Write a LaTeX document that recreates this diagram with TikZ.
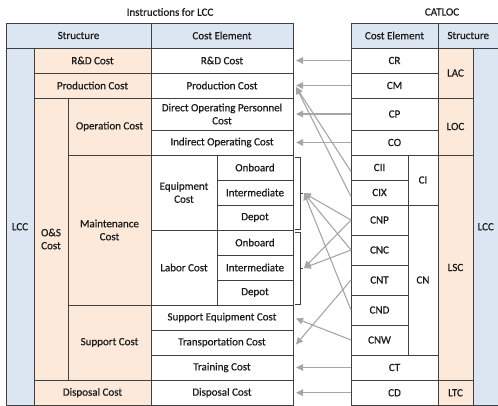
\documentclass[tikz,border=0pt]{standalone}
\usepackage{fontspec}
\setmainfont{Carlito}[FakeBold=0.5]
\usetikzlibrary{arrows.meta}
\definecolor{hdrblue}{HTML}{DCE6F2}
\definecolor{peach}{HTML}{FDE9D9}
\definecolor{gridline}{HTML}{404040}
\definecolor{linkgray}{HTML}{A6A6A6}
\definecolor{ink}{HTML}{1A1A1A}

% \cellbox{name}{x1}{y1}{x2}{y2}{fill}{text}
\newcommand{\cellbox}[7]{%
  \node[cell, fill=#6, minimum width={(#4-#2)*1pt}, minimum height={(#5-#3)*1pt}]
    (#1) at ({(#2+#4)/2},{(#3+#5)/2}) {#7};}

\begin{document}
\begin{tikzpicture}[x={(1pt,0)}, y={(0,-1pt)},
  every node/.style={text=ink, font=\fontsize{11}{13}\selectfont},
  cell/.style={draw=gridline, line width=0.6pt, inner sep=0pt, outer sep=0pt, align=center},
  link/.style={draw=linkgray, line width=1.1pt, -{Triangle[length=7pt,width=6.5pt]}},
  bracket/.style={draw=gridline, line width=0.6pt}]
\useasboundingbox (0,0) rectangle (498,405);

% titles
\node (ttl) at (170,12) {Instructions for LCC};
\node (ttr) at (442,12) {CATLOC};

% ---- left table: Instructions for LCC ----
\cellbox{lhs}{6}{23}{151}{48}{hdrblue}{Structure}
\cellbox{lhc}{151}{23}{293}{48}{hdrblue}{Cost Element}
\cellbox{llcc}{6}{48}{34}{405.5}{hdrblue}{LCC}
\cellbox{srd}{34}{48}{151}{73}{peach}{R\&D Cost}
\cellbox{spc}{34}{73}{151}{98}{peach}{Production Cost}
\cellbox{sos}{34}{98}{68}{380}{peach}{O\&S\\Cost}
\cellbox{sop}{68}{98}{151}{155}{peach}{Operation Cost}
\cellbox{smc}{68}{155}{151}{305}{peach}{Maintenance\\Cost}
\cellbox{ssc}{68}{305}{151}{380}{peach}{Support Cost}
\cellbox{sdc}{34}{380}{151}{405.5}{peach}{Disposal Cost}

\cellbox{crd}{151}{48}{293}{73}{white}{R\&D Cost}
\cellbox{cpc}{151}{73}{293}{98}{white}{Production Cost}
\cellbox{cdo}{151}{98}{293}{130}{white}{Direct Operating Personnel\\Cost}
\cellbox{cio}{151}{130}{293}{155}{white}{Indirect Operating Cost}
\cellbox{ceq}{151}{155}{217}{230}{white}{Equipment\\Cost}
\cellbox{ceo}{217}{155}{293}{180}{white}{Onboard}
\cellbox{cei}{217}{180}{293}{205}{white}{Intermediate}
\cellbox{ced}{217}{205}{293}{230}{white}{Depot}
\cellbox{clb}{151}{230}{217}{305}{white}{Labor Cost}
\cellbox{clo}{217}{230}{293}{255}{white}{Onboard}
\cellbox{cli}{217}{255}{293}{280}{white}{Intermediate}
\cellbox{cld}{217}{280}{293}{305}{white}{Depot}
\cellbox{cse}{151}{305}{293}{330}{white}{Support Equipment Cost}
\cellbox{ctr}{151}{330}{293}{355}{white}{Transportation Cost}
\cellbox{ctc}{151}{355}{293}{380}{white}{Training Cost}
\cellbox{cdc}{151}{380}{293}{405.5}{white}{Disposal Cost}

% ---- right table: CATLOC ----
\cellbox{rhc}{351}{23}{438}{48}{hdrblue}{Cost Element}
\cellbox{rhs}{438}{23}{498.5}{48}{hdrblue}{Structure}
\cellbox{cr}{351}{48}{438}{73}{white}{CR}
\cellbox{cm}{351}{73}{438}{98}{white}{CM}
\cellbox{cp}{351}{98}{438}{130}{white}{CP}
\cellbox{co}{351}{130}{438}{155}{white}{CO}
\cellbox{cii}{351}{155}{408}{180}{white}{CII}
\cellbox{cix}{351}{180}{408}{205}{white}{CIX}
\cellbox{ci}{408}{155}{438}{205}{white}{CI}
\cellbox{cnp}{351}{205}{408}{235}{white}{CNP}
\cellbox{cnc}{351}{235}{408}{265}{white}{CNC}
\cellbox{cnt}{351}{265}{408}{295}{white}{CNT}
\cellbox{cnd}{351}{295}{408}{325}{white}{CND}
\cellbox{cnw}{351}{325}{408}{355}{white}{CNW}
\cellbox{cn}{408}{205}{438}{355}{white}{CN}
\cellbox{ct}{351}{355}{438}{380}{white}{CT}
\cellbox{cd}{351}{380}{438}{405.5}{white}{CD}
\cellbox{lac}{438}{48}{473}{98}{peach}{LAC}
\cellbox{loc}{438}{98}{473}{155}{peach}{LOC}
\cellbox{lsc}{438}{155}{473}{380}{peach}{LSC}
\cellbox{ltc}{438}{380}{473}{405.5}{peach}{LTC}
\cellbox{rlcc}{473}{48}{498.5}{405.5}{hdrblue}{LCC}

% ---- brackets grouping the maintenance levels ----
\coordinate (eqtip) at (304,193);
\coordinate (lbtip) at (304,268);
\draw[bracket] (295,157) -- (300,157) -- (300,229) -- (295,229);
\draw[bracket] (300,193) -- (302.5,193);
\draw[bracket] (295,232) -- (300,232) -- (300,304) -- (295,304);
\draw[bracket] (300,268) -- (302.5,268);

% ---- mapping arrows ----
\draw[link] (cr.west) -- ([xshift=3pt]crd.east);
\draw[link] (cm.west) -- ([xshift=3pt]cpc.east);
\draw[link] (cp.west) -- ([xshift=3pt]cdo.east);
\draw[link] (co.west) -- ([xshift=3pt]cio.east);
\draw[link] ([yshift=-4pt]cii.west) -- ([xshift=3pt,yshift=-1.5pt]cpc.east);
\draw[link] ([yshift=-4pt]cix.west) -- ([xshift=3pt,yshift=-1.5pt]cpc.east);
\draw[link] (cnp.west) -- (eqtip);
\draw[link] (cnc.west) -- (eqtip);
\draw[link] (cnd.west) -- (eqtip);
\draw[link] (cnp.west) -- (lbtip);
\draw[link] (cnc.west) -- (lbtip);
\draw[link] (cnt.west) -- ([xshift=3pt,yshift=-2pt]ctr.east);
\draw[link] (cnw.west) -- ([xshift=3pt,yshift=-1pt]cse.east);
\draw[link] (ct.west) -- ([xshift=3pt]ctc.east);
\draw[link] (cd.west) -- ([xshift=3pt]cdc.east);
\end{tikzpicture}
\end{document}
